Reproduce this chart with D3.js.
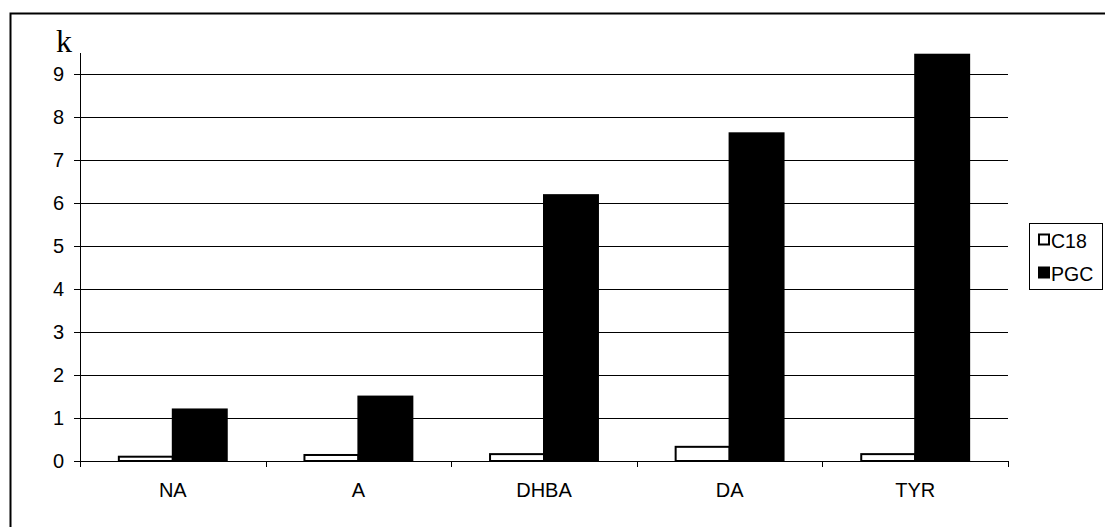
<!DOCTYPE html>
<html><head><meta charset="utf-8">
<script src="https://cdn.jsdelivr.net/npm/d3@7"></script>
<style>body{margin:0;background:#fff}svg{display:block}</style>
</head><body>
<script>
const categories = ["NA", "A", "DHBA", "DA", "TYR"];
const c18 = [0.10, 0.14, 0.16, 0.33, 0.16];
const pgc = [1.2, 1.5, 6.19, 7.63, 9.46];
const seriesNames = ["C18", "PGC"];
const yTicks = [0,1,2,3,4,5,6,7,8,9];

(function () {
const W = 1105, H = 527;
const FS = 20;
const sans = "Liberation Sans, Arial, sans-serif";
const svg = d3.select("body").append("svg").attr("width", W).attr("height", H);
svg.append("rect").attr("x", 10.5).attr("y", 13.5).attr("width", 1100).attr("height", 520)
  .attr("fill", "none").attr("stroke", "#000").attr("stroke-width", 2);

const pLeft = 80, pRight = 1008, pTop = 53, pBottom = 461;
const x = d3.scaleBand().domain(categories).range([pLeft, pRight]);
const y = d3.scaleLinear().domain([0, 9.5]).range([pBottom, pTop]);

// gridlines
svg.append("g").selectAll("line").data(yTicks.filter(d => d > 0)).join("line")
  .attr("x1", pLeft).attr("x2", pRight).attr("y1", d => Math.round(y(d)) + 0.5).attr("y2", d => Math.round(y(d)) + 0.5)
  .attr("stroke", "#000").attr("stroke-width", 1);

// y axis
const yAxis = svg.append("g").attr("transform", `translate(${pLeft},0)`)
  .call(d3.axisLeft(y).tickValues(yTicks).tickSize(6).tickPadding(10).tickFormat(d3.format("d")));
yAxis.select(".domain").attr("d", `M0.5,${pTop}V${pBottom}`).attr("stroke", "#000");
yAxis.selectAll(".tick line").attr("stroke", "#000").attr("shape-rendering", "crispEdges");
yAxis.selectAll("text").attr("font-family", sans).attr("font-size", FS).attr("fill", "#000");

// x axis
const xAxis = svg.append("g").attr("transform", `translate(0,${pBottom})`)
  .call(d3.axisBottom(x).tickSize(0).tickPadding(22));
xAxis.select(".domain").attr("d", `M${pLeft},0.5H${pRight}`).attr("stroke", "#000");
xAxis.selectAll("text").attr("font-family", sans).attr("font-size", FS).attr("fill", "#000");
svg.append("g").selectAll("line").data(d3.range(categories.length + 1)).join("line")
  .attr("x1", i => Math.round(pLeft + i * x.step()) + 0.5).attr("x2", i => Math.round(pLeft + i * x.step()) + 0.5)
  .attr("y1", pBottom).attr("y2", pBottom + 6).attr("stroke", "#000");

// bars
const bw = x.bandwidth() / 3.44;
const inner = d3.scaleBand().domain(seriesNames).range([0, 2 * bw]);
const off = (x.bandwidth() - 2 * bw) / 2;
const data = categories.map((c, i) => ({c, vals: [c18[i], pgc[i]]}));
const g = svg.append("g");
data.forEach(d => {
  d.vals.forEach((v, j) => {
    g.append("rect")
      .attr("x", x(d.c) + off + inner(seriesNames[j]))
      .attr("y", y(v))
      .attr("width", inner.bandwidth())
      .attr("height", pBottom - y(v))
      .attr("fill", j === 0 ? "#fff" : "#000")
      .attr("stroke", "#000").attr("stroke-width", 2);
  });
});

// k label
svg.append("text").attr("x", 56).attr("y", 52).text("k")
  .attr("font-family", "Liberation Serif, Times New Roman, serif").attr("font-size", 32).attr("fill", "#000");

// legend
const lg = svg.append("g");
lg.append("rect").attr("x", 1029.5).attr("y", 223.5).attr("width", 73).attr("height", 66)
  .attr("fill", "#fff").attr("stroke", "#000").attr("stroke-width", 1);
seriesNames.forEach((s, i) => {
  const cy = 239.5 + i * 33;
  lg.append("rect").attr("x", 1039).attr("y", cy - 5).attr("width", 10).attr("height", 10)
    .attr("fill", i === 0 ? "#fff" : "#000").attr("stroke", "#000").attr("stroke-width", 2);
  lg.append("text").attr("x", 1051).attr("y", cy + 8.5).text(s)
    .attr("font-family", sans).attr("font-size", 19.5).attr("fill", "#000");
});
})();
</script>
</body></html>
